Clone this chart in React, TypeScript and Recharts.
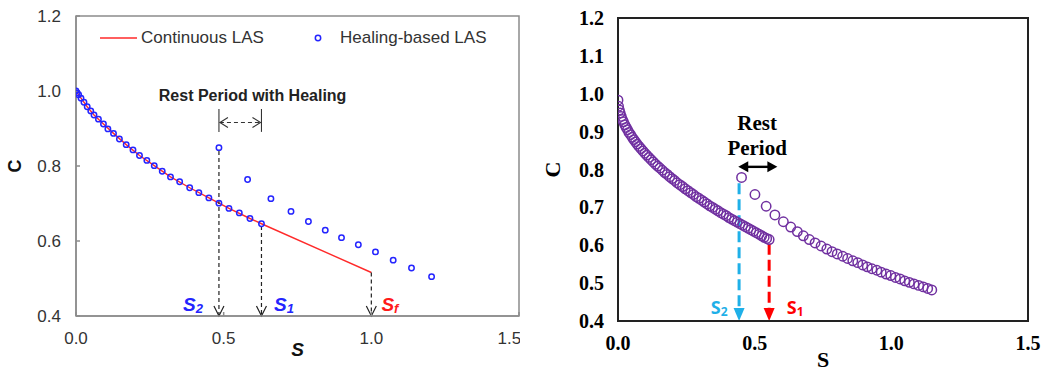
import React from "react";
import {
  ComposedChart,
  Scatter,
  Line,
  XAxis,
  YAxis,
  ReferenceLine,
  ReferenceArea,
  Legend,
} from "recharts";

// ---- left panel: continuous vs healing-based LAS ----
const leftTicksX = [0, 0.5, 1.0, 1.5];
const leftTicksY = [0.4, 0.6, 0.8, 1.0, 1.2];

// loading up to S1
const loadingS = [
  0, 0.004, 0.009, 0.017, 0.027, 0.038, 0.05, 0.061, 0.076, 0.093, 0.108,
  0.127, 0.147, 0.17, 0.193, 0.215, 0.24, 0.265, 0.292, 0.32, 0.351, 0.385,
  0.416, 0.45, 0.484, 0.518, 0.553, 0.589, 0.628,
];
const loadingC = [
  1.0, 0.995, 0.99, 0.981, 0.97, 0.958, 0.947, 0.936, 0.925, 0.912, 0.899,
  0.887, 0.872, 0.857, 0.843, 0.828, 0.815, 0.801, 0.786, 0.771, 0.758, 0.742,
  0.729, 0.715, 0.701, 0.687, 0.675, 0.66, 0.646,
];
// after the rest period
const healedS = [0.484, 0.581, 0.66, 0.728, 0.787, 0.844, 0.899, 0.956, 1.014, 1.074, 1.136, 1.204];
const healedC = [0.849, 0.764, 0.713, 0.679, 0.652, 0.629, 0.609, 0.59, 0.571, 0.549, 0.528, 0.505];

const continuousS = [
  0, 0.017, 0.038, 0.061, 0.093, 0.127, 0.17, 0.215, 0.265, 0.32, 0.385, 0.45,
  0.518, 0.589, 0.628, 1.0,
];
const continuousC = [
  1.0, 0.981, 0.958, 0.936, 0.912, 0.887, 0.857, 0.828, 0.801, 0.771, 0.742,
  0.715, 0.687, 0.66, 0.646, 0.516,
];

const leftS2 = 0.484;
const leftS1 = 0.628;
const leftSf = 1.0;

// ---- right panel ----
const rightTicksX = [0, 0.5, 1.0, 1.5];
const rightTicksY = [0.4, 0.5, 0.6, 0.7, 0.8, 0.9, 1.0, 1.1, 1.2];

const beforeRestS = [
  0, 0.002, 0.005, 0.008, 0.012, 0.016, 0.02, 0.025, 0.03, 0.035, 0.04, 0.046,
  0.052, 0.058, 0.064, 0.07, 0.077, 0.084, 0.091, 0.098, 0.105, 0.113, 0.121,
  0.129, 0.137, 0.145, 0.153, 0.162, 0.171, 0.18, 0.189, 0.198, 0.207, 0.216,
  0.226, 0.236, 0.246, 0.256, 0.266, 0.276, 0.286, 0.296, 0.306, 0.316, 0.326,
  0.336, 0.346, 0.356, 0.366, 0.376, 0.386, 0.396, 0.406, 0.416, 0.426, 0.436,
  0.446, 0.456, 0.466, 0.476, 0.486, 0.496, 0.506, 0.516, 0.526, 0.535, 0.544,
  0.553,
];
const beforeRestC = [
  0.983, 0.967, 0.957, 0.949, 0.94, 0.932, 0.926, 0.918, 0.911, 0.905, 0.898,
  0.892, 0.885, 0.879, 0.873, 0.867, 0.861, 0.855, 0.849, 0.843, 0.838, 0.832,
  0.826, 0.82, 0.814, 0.809, 0.804, 0.798, 0.792, 0.787, 0.781, 0.776, 0.771,
  0.765, 0.76, 0.755, 0.749, 0.744, 0.739, 0.734, 0.728, 0.724, 0.719, 0.714,
  0.709, 0.704, 0.7, 0.695, 0.691, 0.686, 0.682, 0.678, 0.673, 0.669, 0.665,
  0.661, 0.657, 0.653, 0.649, 0.645, 0.641, 0.637, 0.633, 0.629, 0.625, 0.621,
  0.618, 0.615,
];
const afterRestS = [
  0.452, 0.501, 0.542, 0.574, 0.605, 0.632, 0.656, 0.678, 0.7, 0.721, 0.743,
  0.764, 0.783, 0.802, 0.822, 0.84, 0.859, 0.877, 0.895, 0.912, 0.929, 0.947,
  0.963, 0.981, 0.998, 1.015, 1.032, 1.049, 1.066, 1.083, 1.1, 1.117, 1.133,
  1.148,
];
const afterRestC = [
  0.779, 0.734, 0.703, 0.68, 0.662, 0.648, 0.636, 0.625, 0.615, 0.606, 0.598,
  0.59, 0.583, 0.577, 0.571, 0.565, 0.559, 0.554, 0.548, 0.543, 0.538, 0.534,
  0.529, 0.524, 0.52, 0.515, 0.511, 0.506, 0.502, 0.498, 0.494, 0.49, 0.486,
  0.482,
];

const rightS2 = 0.443;
const rightS1 = 0.553;

const zip = (s: number[], c: number[]) => s.map((v, i) => ({ s: v, c: c[i] }));

const healingData = [...zip(loadingS, loadingC), ...zip(healedS, healedC)];
const continuousData = zip(continuousS, continuousC);
const rightData = [...zip(beforeRestS, beforeRestC), ...zip(afterRestS, afterRestC)];

const SANS = "'Liberation Sans', Arial, sans-serif";
const SERIF = "'Liberation Serif', 'Times New Roman', serif";
const CALIBRI_ISH = "'Open Sans', 'Noto Sans', sans-serif";
const GREY = "#8c8c8c";
const BLUE = "#2424ff";
const RED = "#ff2a2a";
const PURPLE = "#7030a0";
const SKY = "#1fb0e8";

const fmt = (v: number) => v.toFixed(1);

const BlueRing = (p: any) => (
  <circle cx={p.cx} cy={p.cy} r={2.7} fill="none" stroke={BLUE} strokeWidth={1.5} />
);
const PurpleRing = (p: any) => (
  <circle cx={p.cx} cy={p.cy} r={4.7} fill="none" stroke={PURPLE} strokeWidth={1.5} />
);

// dashed drop line with open "V" head (left panel)
const dropOpen = (p: any) => (
  <g>
    <line x1={p.x1} y1={p.y1} x2={p.x2} y2={p.y2 - 1} stroke="#222" strokeWidth={1.2} strokeDasharray="4 3" />
    <polyline
      points={`${p.x2 - 5},${p.y2 - 10} ${p.x2},${p.y2} ${p.x2 + 5},${p.y2 - 10}`}
      fill="none"
      stroke="#222"
      strokeWidth={1.2}
    />
  </g>
);

// dashed drop line with filled head (right panel)
const dropFilled = (color: string) => (p: any) => (
  <g>
    <line x1={p.x1} y1={p.y1} x2={p.x2} y2={p.y2 - 12} stroke={color} strokeWidth={3} strokeDasharray="11 5" />
    <polygon points={`${p.x2 - 5.5},${p.y2 - 13} ${p.x2 + 5.5},${p.y2 - 13} ${p.x2},${p.y2}`} fill={color} />
  </g>
);

const thinLine = (p: any) => (
  <line x1={p.x1} y1={p.y1} x2={p.x2} y2={p.y2} stroke="#333" strokeWidth={1.1} />
);

const dashedDoubleArrow = (p: any) => (
  <g fill="none" stroke="#333" strokeWidth={1.1}>
    <line x1={p.x1 + 1} y1={p.y1} x2={p.x2 - 1} y2={p.y2} strokeDasharray="4 3" />
    <polyline points={`${p.x1 + 9},${p.y1 - 5} ${p.x1 + 1},${p.y1} ${p.x1 + 9},${p.y1 + 5}`} />
    <polyline points={`${p.x2 - 9},${p.y2 - 5} ${p.x2 - 1},${p.y2} ${p.x2 - 9},${p.y2 + 5}`} />
  </g>
);

const solidDoubleArrow = (p: any) => (
  <g>
    <line x1={p.x1 + 8} y1={p.y1} x2={p.x2 - 8} y2={p.y2} stroke="#000" strokeWidth={2.4} />
    <polygon points={`${p.x1},${p.y1} ${p.x1 + 10},${p.y1 - 5.5} ${p.x1 + 10},${p.y1 + 5.5}`} fill="#000" />
    <polygon points={`${p.x2},${p.y2} ${p.x2 - 10},${p.y2 - 5.5} ${p.x2 - 10},${p.y2 + 5.5}`} fill="#000" />
  </g>
);

const textAt =
  (content: React.ReactNode, style: React.SVGProps<SVGTextElement>) => (p: any) =>
    (
      <text x={p.x1} y={p.y1} textAnchor="middle" dominantBaseline="central" {...style}>
        {content}
      </text>
    );

const subLabel = (main: string, sub: string, subSize: number, dy: number) => (
  <>
    <tspan>{main}</tspan>
    <tspan fontSize={subSize} dy={dy}>
      {sub}
    </tspan>
  </>
);

const at = (x: number, y: number) => [
  { x, y },
  { x, y },
];

const LeftLegend = () => (
  <div style={{ position: "relative", width: 410, height: 22, fontFamily: SANS, fontSize: 17, color: "#333" }}>
    <svg style={{ position: "absolute", left: 0, top: 6 }} width={38} height={10}>
      <line x1={0} y1={5} x2={37} y2={5} stroke={RED} strokeWidth={1.5} />
    </svg>
    <div style={{ position: "absolute", left: 41, top: 0, lineHeight: "21px", whiteSpace: "nowrap" }}>Continuous LAS</div>
    <svg style={{ position: "absolute", left: 213, top: 6 }} width={10} height={10}>
      <circle cx={5} cy={5} r={2.7} fill="none" stroke={BLUE} strokeWidth={1.5} />
    </svg>
    <div style={{ position: "absolute", left: 240, top: 0, lineHeight: "21px", whiteSpace: "nowrap" }}>Healing-based LAS</div>
  </div>
);

function LeftChart() {
  return (
    <ComposedChart width={520} height={371} margin={{ top: 16, right: 1, left: 16, bottom: 0 }}>
      <XAxis
        dataKey="s"
        type="number"
        domain={[0, 1.5]}
        ticks={leftTicksX}
        tickFormatter={fmt}
        allowDataOverflow
        height={55}
        stroke={GREY}
        strokeWidth={1.5}
        tickSize={-4}
        tickMargin={20}
        tick={{ fill: "#333", fontSize: 17, fontFamily: SANS }}
        label={{
          content: (props: any) => {
            const vb = props.viewBox || { x: 76, y: 316, width: 443 };
            return (
              <text
                x={vb.x + vb.width / 2}
                y={vb.y + 40}
                textAnchor="middle"
                fontFamily={SANS}
                fontSize={19}
                fontWeight="bold"
                fontStyle="italic"
                fill="#111"
              >
                S
              </text>
            );
          },
        }}
      />
      <YAxis
        dataKey="c"
        type="number"
        domain={[0.4, 1.2]}
        ticks={leftTicksY}
        tickFormatter={fmt}
        allowDataOverflow
        width={60}
        stroke={GREY}
        strokeWidth={1.5}
        tickSize={-4}
        tickMargin={19}
        tick={{ fill: "#333", fontSize: 17, fontFamily: SANS }}
        label={{
          content: (props: any) => {
            const vb = props.viewBox || { x: 16, y: 16, height: 300 };
            const x = vb.x - 1;
            const y = vb.y + vb.height / 2;
            return (
              <text
                x={x}
                y={y}
                transform={`rotate(-90 ${x} ${y})`}
                textAnchor="middle"
                dominantBaseline="central"
                fontFamily={SANS}
                fontSize={18}
                fontWeight="bold"
                fill="#111"
              >
                C
              </text>
            );
          },
        }}
      />
      <ReferenceArea x1={0} x2={1.5} y1={0.4} y2={1.2} fill="none" stroke={GREY} strokeWidth={1.5} ifOverflow="visible" />
      <Legend
        verticalAlign="middle"
        layout="horizontal"
        wrapperStyle={{ top: 27, left: 100, width: 410, height: 22 }}
        content={() => <LeftLegend />}
      />

      <Line
        data={continuousData}
        dataKey="c"
        name="Continuous LAS"
        type="linear"
        stroke={RED}
        strokeWidth={1.4}
        dot={false}
        activeDot={false}
        isAnimationActive={false}
        legendType="line"
      />
      <Scatter
        data={healingData}
        dataKey="c"
        name="Healing-based LAS"
        shape={BlueRing}
        isAnimationActive={false}
      />

      <ReferenceLine segment={[{ x: leftS2, y: 0.84 }, { x: leftS2, y: 0.4 }]} shape={dropOpen} ifOverflow="visible" />
      <ReferenceLine segment={[{ x: leftS1, y: 0.64 }, { x: leftS1, y: 0.4 }]} shape={dropOpen} ifOverflow="visible" />
      <ReferenceLine segment={[{ x: leftSf, y: 0.516 }, { x: leftSf, y: 0.4 }]} shape={dropOpen} ifOverflow="visible" />

      <ReferenceLine segment={[{ x: leftS2, y: 0.952 }, { x: leftS2, y: 0.891 }]} shape={thinLine} ifOverflow="visible" />
      <ReferenceLine segment={[{ x: leftS1, y: 0.952 }, { x: leftS1, y: 0.891 }]} shape={thinLine} ifOverflow="visible" />
      <ReferenceLine segment={[{ x: leftS2, y: 0.916 }, { x: leftS1, y: 0.916 }]} shape={dashedDoubleArrow} ifOverflow="visible" />

      <ReferenceLine
        segment={at(0.598, 0.989)}
        shape={textAt("Rest Period with Healing", { fontFamily: SANS, fontSize: 16, fontWeight: "bold", fill: "#222" })}
        ifOverflow="visible"
      />
      <ReferenceLine
        segment={at(0.396, 0.432)}
        shape={textAt(subLabel("S", "2", 13, 4), { fontFamily: SANS, fontSize: 19, fontWeight: "bold", fontStyle: "italic", fill: BLUE })}
        ifOverflow="visible"
      />
      <ReferenceLine
        segment={at(0.704, 0.432)}
        shape={textAt(subLabel("S", "1", 13, 4), { fontFamily: SANS, fontSize: 19, fontWeight: "bold", fontStyle: "italic", fill: BLUE })}
        ifOverflow="visible"
      />
      <ReferenceLine
        segment={at(1.063, 0.432)}
        shape={textAt(subLabel("S", "f", 13, 4), { fontFamily: SANS, fontSize: 19, fontWeight: "bold", fontStyle: "italic", fill: "#ff1a1a" })}
        ifOverflow="visible"
      />
    </ComposedChart>
  );
}

function RightChart() {
  return (
    <ComposedChart width={524} height={371} margin={{ top: 18, right: 16, left: 38, bottom: 0 }}>
      <XAxis
        dataKey="s"
        type="number"
        domain={[0, 1.5]}
        ticks={rightTicksX}
        tickFormatter={fmt}
        allowDataOverflow
        height={50}
        stroke="#222"
        strokeWidth={2}
        tickLine={false}
        tickSize={0}
        tickMargin={15}
        tick={{ fill: "#000", fontSize: 20, fontFamily: SERIF, fontWeight: "bold" }}
        label={{
          content: (props: any) => {
            const vb = props.viewBox || { x: 618, y: 321, width: 410 };
            return (
              <text
                x={vb.x + vb.width / 2}
                y={vb.y + 46}
                textAnchor="middle"
                fontFamily={SERIF}
                fontSize={22}
                fontWeight="bold"
                fill="#000"
              >
                S
              </text>
            );
          },
        }}
      />
      <YAxis
        dataKey="c"
        type="number"
        domain={[0.4, 1.2]}
        ticks={rightTicksY}
        tickFormatter={fmt}
        allowDataOverflow
        width={60}
        stroke="#222"
        strokeWidth={2}
        tickLine={false}
        tickSize={0}
        tickMargin={14}
        tick={{ fill: "#000", fontSize: 20, fontFamily: SERIF, fontWeight: "bold" }}
        label={{
          content: (props: any) => {
            const vb = props.viewBox || { x: 38, y: 18, height: 303 };
            const x = vb.x - 6;
            const y = vb.y + vb.height / 2;
            return (
              <text
                x={x}
                y={y}
                transform={`rotate(-90 ${x} ${y})`}
                textAnchor="middle"
                dominantBaseline="central"
                fontFamily={SERIF}
                fontSize={22}
                fontWeight="bold"
                fill="#000"
              >
                C
              </text>
            );
          },
        }}
      />
      <ReferenceArea x1={0} x2={1.5} y1={0.4} y2={1.2} fill="none" stroke="#222" strokeWidth={2} ifOverflow="visible" />

      <ReferenceLine segment={[{ x: rightS2, y: 0.764 }, { x: rightS2, y: 0.4 }]} shape={dropFilled(SKY)} ifOverflow="visible" />
      <ReferenceLine segment={[{ x: rightS1, y: 0.604 }, { x: rightS1, y: 0.4 }]} shape={dropFilled("#ff0000")} ifOverflow="visible" />

      <Scatter data={rightData} dataKey="c" name="C" shape={PurpleRing} isAnimationActive={false} />

      <ReferenceLine segment={[{ x: 0.44, y: 0.807 }, { x: 0.583, y: 0.807 }]} shape={solidDoubleArrow} ifOverflow="visible" />
      <ReferenceLine
        segment={at(0.509, 0.924)}
        shape={textAt("Rest", { fontFamily: SERIF, fontSize: 21, fontWeight: "bold", fill: "#000" })}
        ifOverflow="visible"
      />
      <ReferenceLine
        segment={at(0.509, 0.857)}
        shape={textAt("Period", { fontFamily: SERIF, fontSize: 21, fontWeight: "bold", fill: "#000" })}
        ifOverflow="visible"
      />
      <ReferenceLine
        segment={at(0.37, 0.437)}
        shape={textAt(subLabel("S", "2", 12, 4), { fontFamily: CALIBRI_ISH, fontSize: 18, fontWeight: 700, fill: SKY })}
        ifOverflow="visible"
      />
      <ReferenceLine
        segment={at(0.648, 0.437)}
        shape={textAt(subLabel("S", "1", 12, 4), { fontFamily: CALIBRI_ISH, fontSize: 18, fontWeight: 700, fill: "#ff0000" })}
        ifOverflow="visible"
      />
    </ComposedChart>
  );
}

export default function App() {
  return (
    <div style={{ position: "absolute", left: 0, top: 0, width: 1044, height: 371, background: "#fff" }}>
      <div style={{ position: "absolute", left: 0, top: 0 }}>
        <LeftChart />
      </div>
      <div style={{ position: "absolute", left: 520, top: 0 }}>
        <RightChart />
      </div>
    </div>
  );
}
